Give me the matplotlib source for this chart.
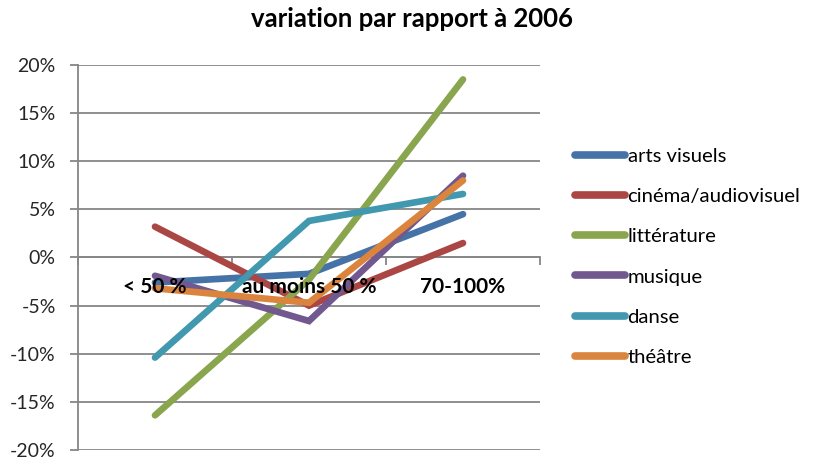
import numpy as np
import matplotlib.pyplot as plt
from matplotlib.ticker import FuncFormatter

plt.rcParams['font.family'] = ['Lato', 'DejaVu Sans']

categories = ['< 50 %', 'au moins 50 %', '70-100%']
series = ['arts visuels', 'cinéma/audiovisuel', 'littérature', 'musique', 'danse', 'théâtre']
arts_visuels = [-2.6, -1.7, 4.5]
cinema = [3.2, -5.0, 1.5]
litterature = [-16.4, -2.3, 18.5]
musique = [-1.9, -6.6, 8.5]
danse = [-10.4, 3.8, 6.6]
theatre = [-3.2, -4.7, 8.0]
values = [arts_visuels, cinema, litterature, musique, danse, theatre]
colors = ['#4572A7', '#AA4643', '#89A54E', '#71588F', '#4198AF', '#DB843D']

fig = plt.figure(figsize=(8.14, 4.58), dpi=100)
ax = fig.add_axes([0.0958, 0.0175, 0.5676, 0.8406])

x = np.arange(len(categories))
for vals, name, c in zip(values, series, colors):
    ax.plot(x, vals, color=c, linewidth=4.8, solid_capstyle='round',
            solid_joinstyle='miter', label=name, zorder=3)

grid_c = '#868686'
ax.set_xlim(-0.5, 2.5)
ax.set_ylim(-20, 20)
ax.set_yticks(np.arange(-20, 21, 5))
ax.yaxis.set_major_formatter(FuncFormatter(lambda v, p: f'{v:.0f}%'))
ax.grid(axis='y', color=grid_c, linewidth=1.3, zorder=0)
ax.tick_params(axis='y', length=6, width=1.3, color=grid_c, labelsize=14,
               pad=10, labelcolor='#262626')

for s in ['top', 'right']:
    ax.spines[s].set_visible(False)
ax.spines['left'].set_color(grid_c)
ax.spines['left'].set_linewidth(1.3)
ax.spines['bottom'].set_position(('data', 0))
ax.spines['bottom'].set_color(grid_c)
ax.spines['bottom'].set_linewidth(1.3)

ax.set_xticks([-0.5, 0.5, 1.5, 2.5])
ax.set_xticklabels([])
ax.tick_params(axis='x', which='major', length=6, width=1.3, color=grid_c)

# category labels drawn over the lines, just under the zero line
for i, cat in enumerate(categories):
    ax.annotate(cat, xy=(x[i], 0), xytext=(0, -21), textcoords='offset points',
                ha='center', va='center', fontsize=15, fontweight='bold',
                zorder=5)

fig.text(0.506, 0.958, 'variation par rapport à 2006', ha='center', va='center',
         fontsize=18.5, fontweight='bold')

fig.legend(loc='center left', bbox_to_anchor=(0.697, 0.439), frameon=False,
           fontsize=14.6, handlelength=2.45, handletextpad=0.12, labelspacing=1.13,
           borderaxespad=0)
for ln in fig.legends[0].get_lines():
    ln.set_linewidth(5.5)
    ln.set_solid_capstyle('round')

fig.savefig('out.png', dpi=100)
